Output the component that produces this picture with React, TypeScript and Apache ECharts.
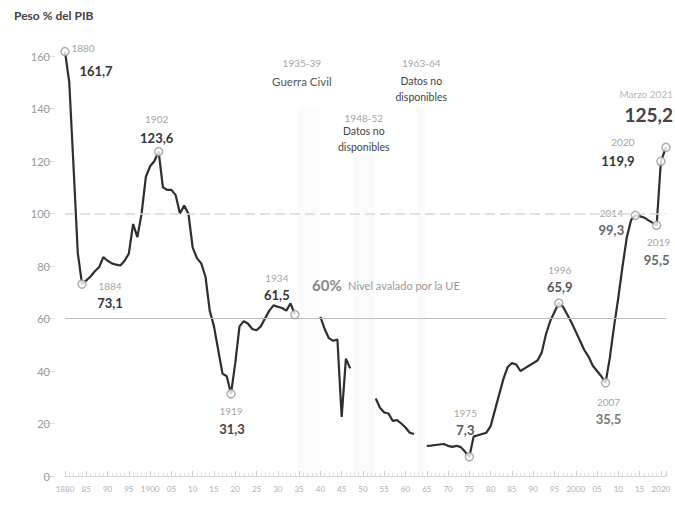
import React, { useEffect, useRef } from "react";
import * as echarts from "echarts";

const FONT = "Lato, 'Open Sans', sans-serif";

// Years (1880–2020, plus March 2021)
const years = [
  1880, 1881, 1882, 1883, 1884, 1885, 1886, 1887, 1888, 1889,
  1890, 1891, 1892, 1893, 1894, 1895, 1896, 1897, 1898, 1899,
  1900, 1901, 1902, 1903, 1904, 1905, 1906, 1907, 1908, 1909,
  1910, 1911, 1912, 1913, 1914, 1915, 1916, 1917, 1918, 1919,
  1920, 1921, 1922, 1923, 1924, 1925, 1926, 1927, 1928, 1929,
  1930, 1931, 1932, 1933, 1934, 1935, 1936, 1937, 1938, 1939,
  1940, 1941, 1942, 1943, 1944, 1945, 1946, 1947, 1948, 1949,
  1950, 1951, 1952, 1953, 1954, 1955, 1956, 1957, 1958, 1959,
  1960, 1961, 1962, 1963, 1964, 1965, 1966, 1967, 1968, 1969,
  1970, 1971, 1972, 1973, 1974, 1975, 1976, 1977, 1978, 1979,
  1980, 1981, 1982, 1983, 1984, 1985, 1986, 1987, 1988, 1989,
  1990, 1991, 1992, 1993, 1994, 1995, 1996, 1997, 1998, 1999,
  2000, 2001, 2002, 2003, 2004, 2005, 2006, 2007, 2008, 2009,
  2010, 2011, 2012, 2013, 2014, 2015, 2016, 2017, 2018, 2019,
  2020, 2021.2,
];

// Public debt, % of GDP (null = no data)
const debt = [
  161.7, 150, 118, 85, 73.1, 74.5, 76, 78, 79.5, 83.4,
  82, 81, 80.5, 80.2, 82, 84.7, 96, 91, 100, 114,
  118, 120, 123.6, 110, 109, 109, 107, 100, 103, 100,
  87, 83, 81, 76, 63, 57, 48, 39, 38, 31.3,
  43, 57, 59, 58, 56, 55.5, 57, 60, 63, 65,
  64.5, 64, 63, 65.8, 61.5, null, null, null, null, null,
  60.6, 56, 52.5, 51.5, 52, 22.5, 44.7, 41, null, null,
  null, null, null, 29.5, 26, 24.2, 23.8, 21, 21.3, 20,
  18.5, 16.5, 16, null, null, 11.5, 11.6, 11.8, 12, 12.2,
  11.5, 11.1, 11.5, 11, 9.2, 7.3, 15, 15.5, 16, 16.5,
  19, 25, 31, 37, 41.5, 43, 42.5, 40, 41, 42,
  43, 44, 47, 54, 59, 62.5, 65.9, 64.5, 61.5, 58.5,
  55, 51.5, 48, 45.5, 42, 40, 38, 35.5, 45, 57,
  68, 80, 91, 97.5, 99.3, 99, 98.5, 97.5, 96.5, 95.5,
  119.9, 125.2,
];

// Highlighted points
const hlYears = [1880, 1884, 1902, 1919, 1934, 1975, 1996, 2007, 2014, 2019, 2020, 2021.2];
const hlValues = [161.7, 73.1, 123.6, 31.3, 61.5, 7.3, 65.9, 35.5, 99.3, 95.5, 119.9, 125.2];
const hlYearLabels = ["1880", "1884", "1902", "1919", "1934", "1975", "1996", "2007", "2014", "2019", "2020", "Marzo 2021"];
const hlValueLabels = ["161,7", "73,1", "123,6", "31,3", "61,5", "7,3", "65,9", "35,5", "99,3", "95,5", "119,9", "125,2"];

// Data gaps
const gapStart = [1934.8, 1947.8, 1962.8];
const gapEnd = [1939.8, 1952.6, 1964.6];

// Reference levels
const euLevel = 60;
const refLevel = 100;

// Axis
const yMin = 0;
const yMax = 160;
const yStep = 20;
const xMin = 1880;
const xMax = 2021.2;
const xStep = 5;

// label placement (style)
const hlPlace = [
  { yx: 18, yy: -4, vx: 31, vy: 19, ya: "center", va: "center", vc: "#333" },
  { yx: 28, yy: 2, vx: 28, vy: 19, ya: "center", va: "center", vc: "#333" },
  { yx: -2, yy: -33, vx: -2, vy: -14, ya: "center", va: "center", vc: "#333" },
  { yx: 0, yy: 17, vx: 1, vy: 35, ya: "center", va: "center", vc: "#444" },
  { yx: -18, yy: -37, vx: -18, vy: -20, ya: "center", va: "center", vc: "#333" },
  { yx: -4, yy: -44, vx: -4, vy: -27, ya: "center", va: "center", vc: "#555" },
  { yx: 1, yy: -33, vx: 1, vy: -16, ya: "center", va: "center", vc: "#555" },
  { yx: 3, yy: 19, vx: 3, vy: 36, ya: "center", va: "center", vc: "#777" },
  { yx: -24, yy: -2, vx: -24, vy: 15, ya: "center", va: "center", vc: "#666" },
  { yx: 2, yy: 17, vx: 0, vy: 35, ya: "center", va: "center", vc: "#666" },
  { yx: -38, yy: -19, vx: -43, vy: 0, ya: "center", va: "center", vc: "#333" },
  { yx: 7, yy: -53, vx: 7, vy: -33, ya: "right", va: "right", vc: "#444" },
];

export default function App() {
  const ref = useRef<HTMLDivElement>(null);

  useEffect(() => {
    if (!ref.current) return;
    const chart = echarts.init(ref.current, undefined, { renderer: "svg" });

    const lineData = years.map((y, i) => [y, debt[i] === null ? null : debt[i]]);
    const hlData = hlYears.map((y, i) => [y, hlValues[i]]);

    chart.setOption({
      animation: false,
      backgroundColor: "#fff",
      title: {
        text: "Peso % del PIB",
        left: 9,
        top: 4,
        textStyle: { fontFamily: FONT, fontSize: 12, fontWeight: "bold", color: "#444" },
      },
      grid: { left: 65, right: 9, top: 56, bottom: 34 },
      xAxis: {
        type: "value",
        min: xMin,
        max: xMax,
        interval: xStep,
        axisLine: { show: true, lineStyle: { color: "#d6d6d6", width: 1 } },
        axisTick: { show: true, inside: true, length: 5, lineStyle: { color: "#d0d0d0" } },
        minorTick: { show: true, splitNumber: 5, length: 3, lineStyle: { color: "#e0e0e0" } },
        splitLine: { show: false },
        axisLabel: {
          color: "#b0b0b0",
          fontSize: 8,
          fontFamily: FONT,
          margin: 9,
          showMaxLabel: false,
          formatter: (v: number) => {
            if (!Number.isInteger(v)) return "";
            if (v === 1880 || v % 100 === 0 || v === 2020) return String(v);
            return String(v % 100).padStart(2, "0");
          },
        },
      },
      yAxis: {
        type: "value",
        min: yMin,
        max: yMax,
        interval: yStep,
        offset: 10,
        axisLine: { show: false },
        axisTick: { show: true, length: 12, lineStyle: { color: "#ddd" } },
        splitLine: { show: false },
        axisLabel: { color: "#999", fontSize: 11, fontFamily: FONT, margin: 5 },
      },
      series: [
        {
          type: "line",
          data: lineData,
          showSymbol: false,
          connectNulls: false,
          clip: false,
          lineStyle: { color: "#2e2e2e", width: 2.2 },
          itemStyle: { color: "#2e2e2e" },
          z: 3,
          markLine: {
            silent: true,
            symbol: ["none", "none"],
            label: { show: false },
            data: [
              { yAxis: refLevel, lineStyle: { color: "#d8d8d8", type: [10, 5], width: 1.5 } },
              { yAxis: euLevel, lineStyle: { color: "#bdbdbd", type: "solid", width: 1.2 } },
            ],
          },
          markArea: {
            silent: true,
            itemStyle: { color: "rgba(0,0,0,0.016)" },
            data: gapStart.map((s, i) => [
              { xAxis: s, yAxis: 0 },
              { xAxis: gapEnd[i], yAxis: i === 1 ? 122 : 140 },
            ]),
          },
        },
        {
          type: "scatter",
          data: hlData,
          symbol: "circle",
          symbolSize: 8,
          clip: false,
          itemStyle: { color: "#fff", borderColor: "#9a9a9a", borderWidth: 1.5 },
          z: 5,
        },
      ],
    });

    const px = (x: number, y: number) =>
      chart.convertToPixel({ xAxisIndex: 0, yAxisIndex: 0 }, [x, y]) as number[];

    const elements: any[] = [];
    hlYears.forEach((yr, i) => {
      const p = px(yr, hlValues[i]);
      const pl = hlPlace[i];
      const isLast = i === hlYears.length - 1;
      elements.push({
        type: "text",
        x: p[0] + pl.yx,
        y: p[1] + pl.yy,
        silent: true,
        style: {
          text: hlYearLabels[i],
          fill: isLast ? "#b8b8b8" : "#a5a5a5",
          fontFamily: FONT,
          fontSize: 10,
          align: pl.ya,
          verticalAlign: "middle",
        },
      });
      elements.push({
        type: "text",
        x: p[0] + pl.vx,
        y: p[1] + pl.vy,
        silent: true,
        style: {
          text: hlValueLabels[i],
          fill: pl.vc,
          fontFamily: FONT,
          fontSize: isLast ? 19 : 13,
          fontWeight: "bold",
          align: pl.va,
          verticalAlign: "middle",
        },
      });
    });

    const gapMid = (i: number) => px((gapStart[i] + gapEnd[i]) / 2, 0)[0];
    const g1 = gapMid(0);
    const g2 = gapMid(1);
    const g3 = gapMid(2);
    const txt = (t: string, x: number, y: number, size: number, fill: string, weight = "normal", align = "center") => ({
      type: "text",
      x,
      y,
      silent: true,
      style: { text: t, fill, fontFamily: FONT, fontSize: size, fontWeight: weight, align, verticalAlign: "middle" },
    });
    elements.push(txt("1935-39", g1 - 7, 63, 10, "#a5a5a5"));
    elements.push(txt("Guerra Civil", g1 - 7, 81, 11.5, "#555"));
    elements.push(txt("1948-52", g2, 118, 10, "#a5a5a5"));
    elements.push(txt("Datos no", g2, 131, 10.5, "#444"));
    elements.push(txt("disponibles", g2, 147, 10.5, "#444"));
    elements.push(txt("1963-64", g3, 63, 10, "#a5a5a5"));
    elements.push(txt("Datos no", g3, 81, 10.5, "#444"));
    elements.push(txt("disponibles", g3, 97, 10.5, "#444"));

    const eu = px(1935, euLevel);
    elements.push(txt("60%", eu[0] + 13, eu[1] - 34, 15, "#888", "bold", "left"));
    elements.push(txt("Nivel avalado por la UE", eu[0] + 49, eu[1] - 33, 11, "#9a9a9a", "normal", "left"));

    chart.setOption({ graphic: { elements } });

    return () => chart.dispose();
  }, []);

  return (
    <div
      ref={ref}
      style={{ position: "fixed", left: 0, top: 0, width: 675, height: 510, background: "#fff" }}
    />
  );
}
